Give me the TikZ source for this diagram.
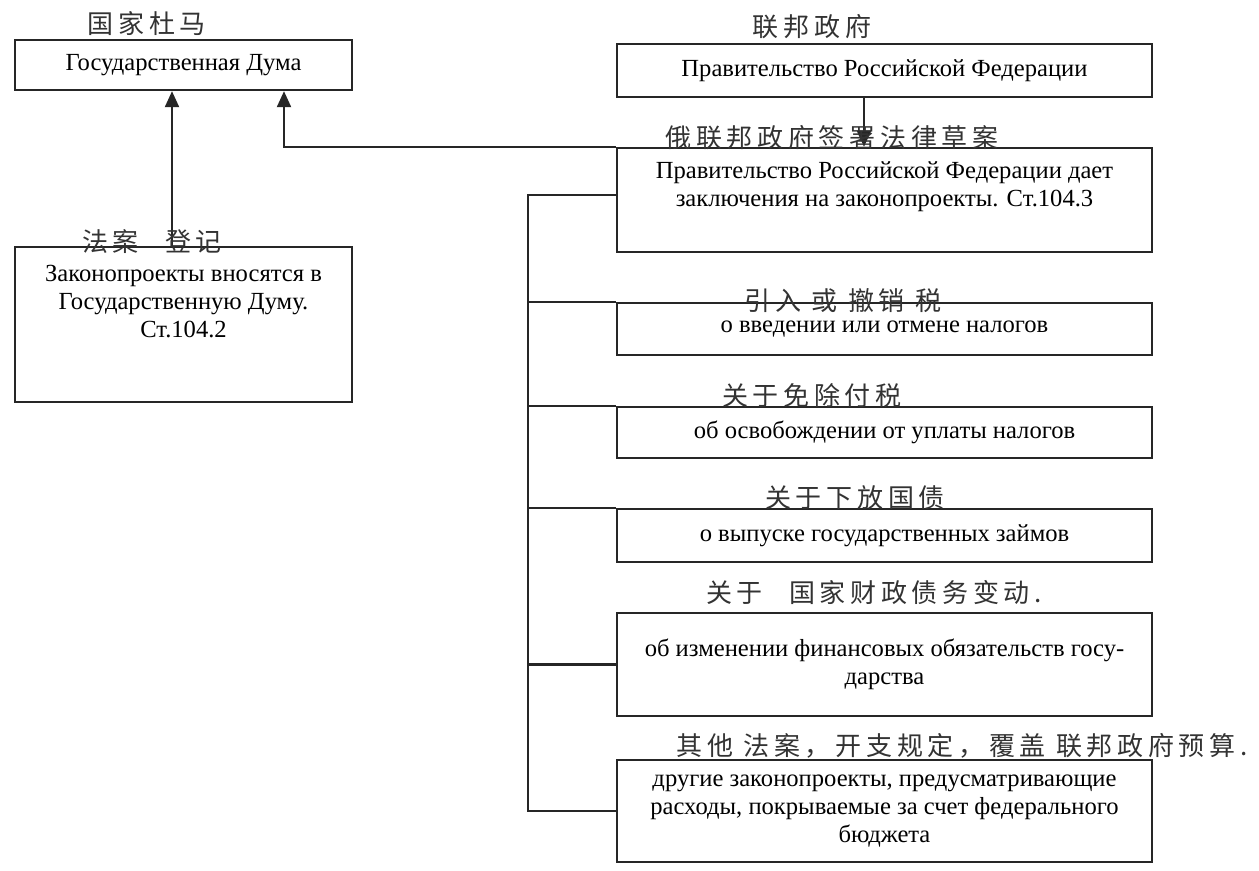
\documentclass[tikz,border=0pt]{standalone}
\usepackage{fontspec}
\setmainfont{Liberation Serif}
\newfontfamily\cjk[LetterSpace=18]{Noto Sans CJK SC}
\usepackage{tikz}
\usetikzlibrary{arrows.meta}

\tikzset{
  box/.style={draw=black!85, line width=1.2pt, minimum width=267.5pt, align=center,
    inner sep=4pt, font=\fontsize{12.3}{14}\selectfont},
  link/.style={draw=black!85, line width=1.1pt},
  arr/.style={link, -{Triangle[width=7pt,length=8pt]}},
  note/.style={font=\cjk\fontsize{13}{14}\selectfont, text=black!80, inner sep=0pt}
}

\begin{document}
\begin{tikzpicture}[x=0.5pt, y=-0.5pt]
\useasboundingbox[fill=white] (0,0) rectangle (1259,871);

% left column
\node [box, minimum width=168.5pt, minimum height=25pt] (duma) at (183.5,65) {Государственная Дума};
\node [box, minimum width=168.5pt] (bill) at (183.5,324.5)
  {\parbox[t][69.5pt][t]{160pt}{\centering\vspace*{5pt}Законопроекты вносятся в\\Государственную Думу.\\Ст.104.2}};

% right column
\node [box, minimum height=26.5pt] (gov) at (884.5,70.5) {Правительство Российской Федерации};
\node [box] (gov-opinion) at (884.5,200)
  {\parbox[t][44pt][t]{259pt}{\centering\vspace*{3pt}Правительство Российской Федерации дает\\заключения на законопроекты. Ст.104.3}};

\foreach \yc/\h/\t [count=\i] in {
    329/26/{о введении или отмене налогов},
    432.5/25.5/{об освобождении от уплаты налогов},
    535.5/26.5/{о выпуске государственных займов},
    664.5/51.5/{об изменении финансовых обязательств госу-\\дарства},
    811/51/{другие законопроекты, предусматривающие\\расходы, покрываемые за счет федерального\\бюджета}}
  \node [box, minimum height=\h pt] (case-\i) at (884.5,\yc) {\t};

% arrows
\draw [arr] ([xshift=-5.75pt]bill.north) -- ([xshift=-5.75pt]duma.south);
\draw [arr] (gov-opinion.north west) -| ([xshift=50.25pt]duma.south);
\draw [arr] ([xshift=-10.25pt]gov.south) -- ([xshift=-10.25pt]gov-opinion.north);

% trunk
\coordinate (trunk) at (528,500);
\draw [link] ([yshift=2.5pt]gov-opinion.west) -| (trunk |- case-5.west) -- (case-5.west);
\foreach \i in {1,2,3}
  \draw [link] (trunk |- case-\i.north west) -- (case-\i.north west);
\draw [link] (trunk |- case-4.west) -- (case-4.west);

% handwritten notes
\node [note] (note-duma) at (147,24) {国家杜马};
\node [note] (note-gov) at (812,27) {联邦政府};
\node [note] (note-opinion) at (832,138) {俄联邦政府签署法律草案};
\node [note] (note-bill) at (152,242) {法案\quad 登记};
\node [note] (note-1) at (843,301) {引入 或 撤销 税};
\node [note] (note-2) at (812,396) {关于免除付税};
\node [note] (note-3) at (855,498) {关于下放国债};
\node [note] (note-4) at (874,593) {关于\quad 国家财政债务变动.};
\node [note] (note-5) at (962,746) {其他 法案，开支规定，覆盖 联邦政府预算.};
\end{tikzpicture}
\end{document}
